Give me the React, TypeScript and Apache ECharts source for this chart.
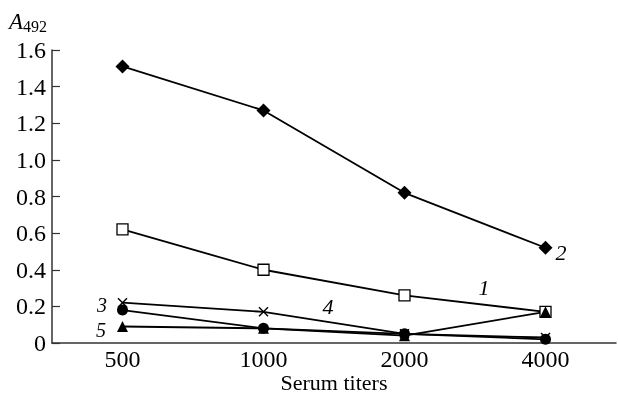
import React, { useEffect, useRef } from "react";
import * as echarts from "echarts";

const categories = ["500", "1000", "2000", "4000"];
const series1 = [0.62, 0.40, 0.26, 0.17];
const series2 = [1.51, 1.27, 0.82, 0.52];
const series3 = [0.18, 0.08, 0.05, 0.02];
const series4 = [0.22, 0.17, 0.05, 0.03];
const series5 = [0.09, 0.08, 0.04, 0.17];
const xTitle = "Serum titers";

const FONT = "Liberation Serif";
const CROSS = "path://M0,1L1,0L5,4L9,0L10,1L6,5L10,9L9,10L5,6L1,10L0,9L4,5Z";

export default function App() {
  const ref = useRef<HTMLDivElement>(null);
  useEffect(() => {
    if (!ref.current) return;
    const chart = echarts.init(ref.current, null, { renderer: "svg" });
    const line = { color: "#000", width: 1.8 };
    const mk = (name: string, data: number[], symbol: string, size: number, fill: string) => ({
      name,
      type: "line",
      data,
      symbol,
      symbolSize: size,
      showAllSymbol: true,
      lineStyle: line,
      itemStyle: { color: fill, borderColor: "#000", borderWidth: fill === "#fff" ? 1.3 : 0 },
      z: 3,
    });
    const lbl = (t: string, x: number, y: number, size: number, italic = true) => ({
      type: "text",
      x,
      y,
      style: {
        text: t,
        fontFamily: FONT,
        fontSize: size,
        lineHeight: size,
        fontStyle: italic ? "italic" : "normal",
        fill: "#000",
        align: "center",
        verticalAlign: "middle",
      },
    });
    chart.setOption({
      animation: false,
      textStyle: { fontFamily: FONT },
      grid: { left: 52, right: 2, top: 50, bottom: 53, outerBoundsMode: "none", containLabel: false },
      xAxis: {
        type: "category",
        data: categories,
        boundaryGap: true,
        axisLine: { lineStyle: { color: "#333", width: 1.5 } },
        axisTick: { inside: true, length: 10, alignWithLabel: false, lineStyle: { color: "#333", width: 1.2 } },
        axisLabel: { color: "#000", fontFamily: FONT, fontSize: 24, margin: 4 },
      },
      yAxis: {
        type: "value",
        min: 0,
        max: 1.6,
        interval: 0.2,
        splitLine: { show: false },
        axisLine: { show: true, lineStyle: { color: "#333", width: 1.5 } },
        axisTick: { show: true, inside: true, length: 8, lineStyle: { color: "#333", width: 1.2 } },
        axisLabel: {
          color: "#000",
          fontFamily: FONT,
          fontSize: 24,
          margin: 6,
          formatter: (v: number) => (v === 0 ? "0" : v.toFixed(1)),
        },
      },
      series: [
        mk("1", series1, "rect", 11, "#fff"),
        mk("2", series2, "diamond", 14, "#000"),
        mk("4", series4, CROSS, 10, "#000"),
        mk("3", series3, "circle", 11, "#000"),
        mk("5", series5, "triangle", 11, "#000"),
      ],
      graphic: [
        {
          type: "text",
          left: 9,
          top: 10,
          style: {
            text: "{a|A}{s|492}",
            rich: {
              a: { fontFamily: FONT, fontSize: 23, fontStyle: "italic", fill: "#000" },
              s: { fontFamily: FONT, fontSize: 16, fill: "#000", padding: [10, 0, 0, 0] },
            },
          },
        },
        lbl(xTitle, 334, 382, 22, false),
        lbl("1", 484, 287, 22),
        lbl("2", 561, 252, 22),
        lbl("3", 102, 305, 20),
        lbl("4", 328, 306, 22),
        lbl("5", 101, 330, 20),
      ],
    });
    return () => chart.dispose();
  }, []);
  return (
    <div
      ref={ref}
      style={{ position: "fixed", left: 0, top: 0, width: 618, height: 396 }}
    />
  );
}
